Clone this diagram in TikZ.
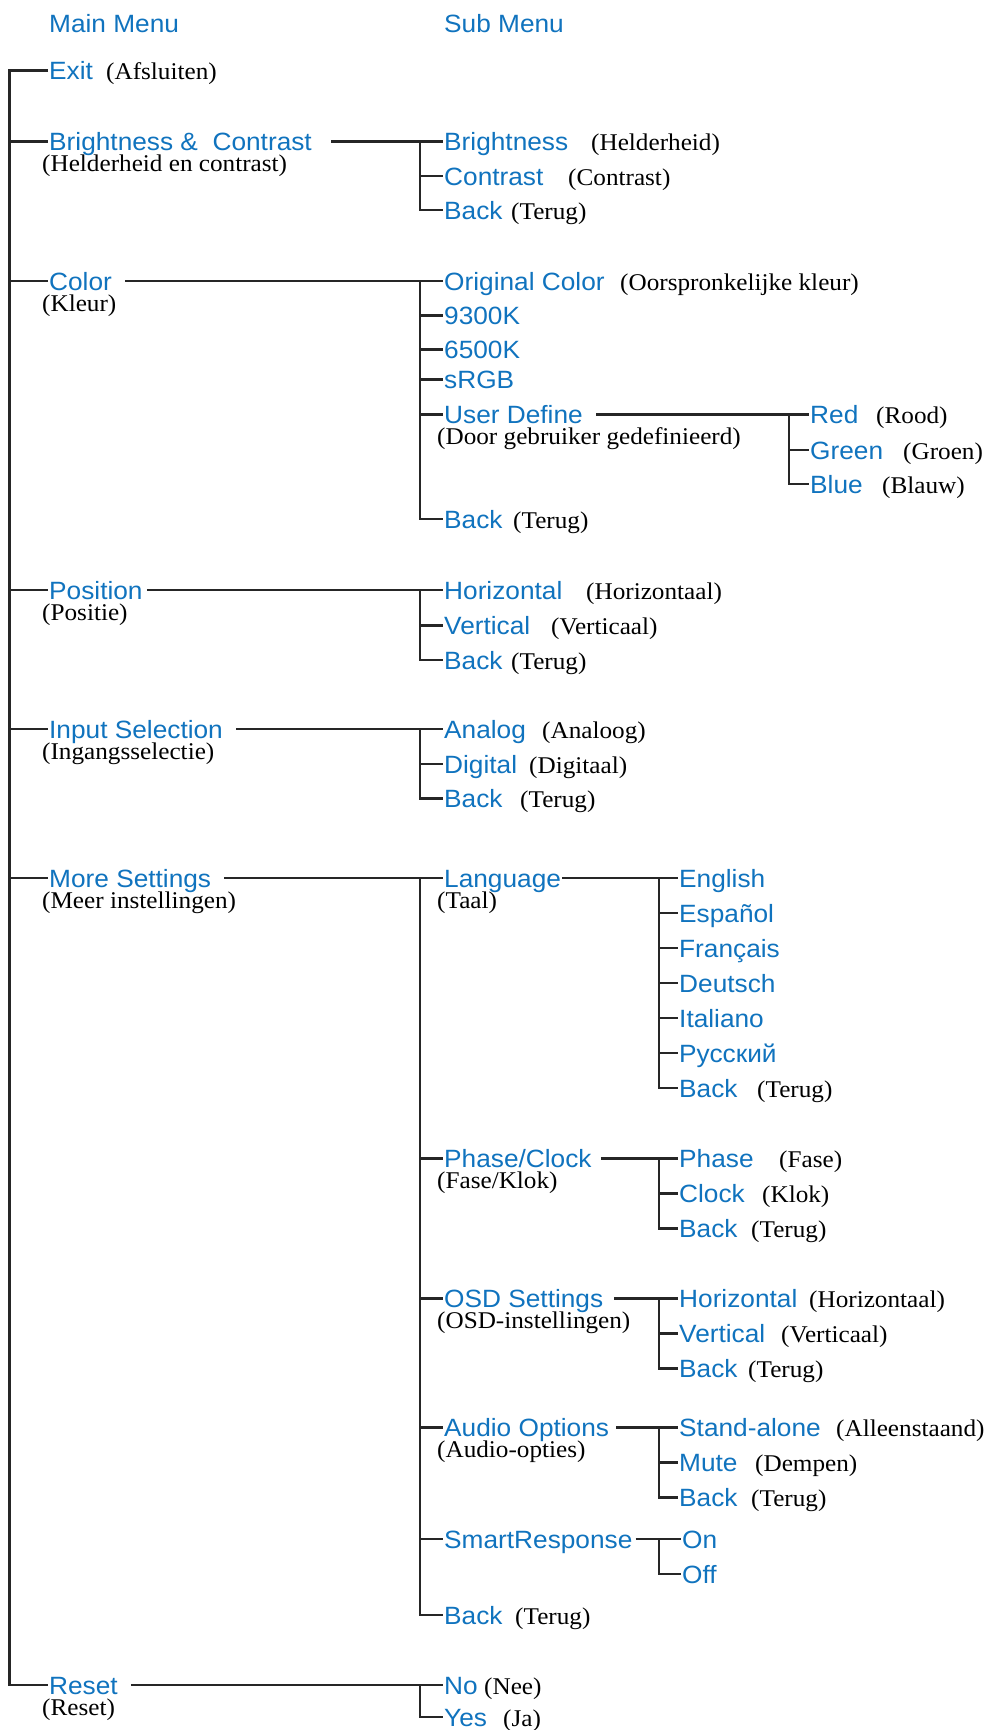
\documentclass[tikz,border=0pt]{standalone}
\usepackage{fontspec}
\newfontfamily\menufont[FakeStretch=1.05]{Liberation Sans}
\newfontfamily\nlfont[FakeStretch=1.05]{Liberation Serif}
\usetikzlibrary{positioning}
\definecolor{menublue}{RGB}{16,115,190}
\tikzset{
  item/.style={font={\menufont\fontsize{25}{30}\selectfont}, text=menublue, anchor=west,
    inner sep=1pt, text height=18pt, text depth=0pt},
  nl/.style={font={\nlfont\fontsize{24}{28}\selectfont}, anchor=west,
    inner sep=1pt, text height=18pt, text depth=0pt},
  tree/.style={line width=2.2pt, draw=black!85},
}

\begin{document}
\begin{tikzpicture}[x=1pt,y=-1pt]
\useasboundingbox (0,0) rectangle (990,1730);
\coordinate (t) at (9.5,0);
\coordinate (s) at (420,0);
\coordinate (w) at (659,0);
\coordinate (u) at (789,0);

\node[item] (mainhd) at (48,23) {Main Menu};
\node[item] (subhd) at (443,23) {Sub Menu};

% main menu
\node[item] (exit) at (48,70.5) {Exit};
\node[nl] (exitnl) at (105,70.5) {(Afsluiten)};
\node[item] (bc) at (48,141.5) {Brightness \&\ \ Contrast};
\node[nl] (bcnl) at ([xshift=-7pt,yshift=-21pt]bc.west) {(Helderheid en contrast)};
\node[item] (color) at (48,281) {Color};
\node[nl] (colornl) at ([xshift=-7pt,yshift=-21pt]color.west) {(Kleur)};
\node[item] (pos) at (48,590) {Position};
\node[nl] (posnl) at ([xshift=-7pt,yshift=-21pt]pos.west) {(Positie)};
\node[item] (input) at (48,729) {Input Selection};
\node[nl] (inputnl) at ([xshift=-7pt,yshift=-21pt]input.west) {(Ingangsselectie)};
\node[item] (more) at (48,878) {More Settings};
\node[nl] (morenl) at ([xshift=-7pt,yshift=-21pt]more.west) {(Meer instellingen)};
\node[item] (reset) at (48,1685) {Reset};
\node[nl] (resetnl) at ([xshift=-7pt,yshift=-21pt]reset.west) {(Reset)};

\draw[tree] (exit.west) -- (t |- exit.west) -- (t |- reset.west) -- (reset.west);
\foreach \n in {bc,color,pos,input,more}
  \draw[tree] (t |- \n.west) -- (\n.west);

% brightness & contrast
\node[item] (bright) at (443,141.5) {Brightness};
\node[nl] (brightnl) at (590,141.5) {(Helderheid)};
\node[item] (contr) at (443,176) {Contrast};
\node[nl] (contrnl) at (567,176) {(Contrast)};
\node[item] (bcback) at (443,210) {Back};
\node[nl] (bcbacknl) at (510,210) {(Terug)};
\draw[tree] ([xshift=18pt]bc.east) -- (s |- bc.east) -- (bright.west);
\draw[tree] (s |- bright.west) -- (s |- bcback.west) -- (bcback.west);
\draw[tree] (s |- contr.west) -- (contr.west);

% color
\node[item] (orig) at (443,281) {Original Color};
\node[nl] (orignl) at (619,281) {(Oorspronkelijke kleur)};
\node[item] (ka) at (443,315.5) {9300K};
\node[item] (kb) at (443,349.5) {6500K};
\node[item] (srgb) at (443,379.5) {sRGB};
\node[item] (user) at (443,414.5) {User Define};
\node[nl] (usernl) at ([xshift=-7pt,yshift=-21pt]user.west) {(Door gebruiker gedefinieerd)};
\node[item] (colback) at (443,519) {Back};
\node[nl] (colbacknl) at (512,519) {(Terug)};
\draw[tree] ([xshift=12pt]color.east) -- (s |- color.east) -- (orig.west);
\draw[tree] (s |- orig.west) -- (s |- colback.west) -- (colback.west);
\foreach \n in {ka,kb,srgb,user}
  \draw[tree] (s |- \n.west) -- (\n.west);

\node[item] (red) at (809,414.5) {Red};
\node[nl] (rednl) at (875,414.5) {(Rood)};
\node[item] (green) at (809,450) {Green};
\node[nl] (greennl) at (902,450) {(Groen)};
\node[item] (blue) at (809,484) {Blue};
\node[nl] (bluenl) at (881,484) {(Blauw)};
\draw[tree] ([xshift=12pt]user.east) -- (u |- user.east) -- (red.west);
\draw[tree] (u |- red.west) -- (u |- blue.west) -- (blue.west);
\draw[tree] (u |- green.west) -- (green.west);

% position
\node[item] (hor) at (443,590) {Horizontal};
\node[nl] (hornl) at (585,590) {(Horizontaal)};
\node[item] (ver) at (443,625.5) {Vertical};
\node[nl] (vernl) at (550,625.5) {(Verticaal)};
\node[item] (posback) at (443,660) {Back};
\node[nl] (posbacknl) at (510,660) {(Terug)};
\draw[tree] ([xshift=3pt]pos.east) -- (s |- pos.east) -- (hor.west);
\draw[tree] (s |- hor.west) -- (s |- posback.west) -- (posback.west);
\draw[tree] (s |- ver.west) -- (ver.west);

% input selection
\node[item] (analog) at (443,729) {Analog};
\node[nl] (analognl) at (541,729) {(Analoog)};
\node[item] (digital) at (443,764) {Digital};
\node[nl] (digitalnl) at (528,764) {(Digitaal)};
\node[item] (inback) at (443,798.5) {Back};
\node[nl] (inbacknl) at (519,798.5) {(Terug)};
\draw[tree] ([xshift=12pt]input.east) -- (s |- input.east) -- (analog.west);
\draw[tree] (s |- analog.west) -- (s |- inback.west) -- (inback.west);
\draw[tree] (s |- digital.west) -- (digital.west);

% more settings
\node[item] (lang) at (443,878) {Language};
\node[nl] (langnl) at ([xshift=-7pt,yshift=-21pt]lang.west) {(Taal)};
\node[item] (phcl) at (443,1158.5) {Phase/Clock};
\node[nl] (phclnl) at ([xshift=-7pt,yshift=-21pt]phcl.west) {(Fase/Klok)};
\node[item] (osd) at (443,1298.5) {OSD Settings};
\node[nl] (osdnl) at ([xshift=-7pt,yshift=-21pt]osd.west) {(OSD-instellingen)};
\node[item] (aud) at (443,1427.5) {Audio Options};
\node[nl] (audnl) at ([xshift=-7pt,yshift=-21pt]aud.west) {(Audio-opties)};
\node[item] (smr) at (443,1539) {SmartResponse};
\node[item] (mback) at (443,1615) {Back};
\node[nl] (mbacknl) at (514,1615) {(Terug)};
\draw[tree] ([xshift=12pt]more.east) -- (s |- more.east) -- (lang.west);
\draw[tree] (s |- lang.west) -- (s |- mback.west) -- (mback.west);
\foreach \n in {phcl,osd,aud,smr}
  \draw[tree] (s |- \n.west) -- (\n.west);

% language
\node[item] (english) at (678,878) {English};
\node[item] (espanol) at (678,913) {Español};
\node[item] (francais) at (678,948) {Français};
\node[item] (deutsch) at (678,983) {Deutsch};
\node[item] (italiano) at (678,1018) {Italiano};
\node[item] (russkij) at (678,1053) {Русский};
\node[item] (langback) at (678,1088) {Back};
\node[nl] (langbacknl) at (756,1088) {(Terug)};
\draw[tree] (lang.east) -- (w |- lang.east) -- (english.west);
\draw[tree] (w |- english.west) -- (w |- langback.west) -- (langback.west);
\foreach \n in {espanol,francais,deutsch,italiano,russkij}
  \draw[tree] (w |- \n.west) -- (\n.west);

% phase/clock
\node[item] (phase) at (678,1158.5) {Phase};
\node[nl] (phasenl) at (778,1158.5) {(Fase)};
\node[item] (clock) at (678,1193.5) {Clock};
\node[nl] (clocknl) at (761,1193.5) {(Klok)};
\node[item] (phback) at (678,1228.5) {Back};
\node[nl] (phbacknl) at (750,1228.5) {(Terug)};
\draw[tree] ([xshift=8pt]phcl.east) -- (w |- phcl.east) -- (phase.west);
\draw[tree] (w |- phase.west) -- (w |- phback.west) -- (phback.west);
\draw[tree] (w |- clock.west) -- (clock.west);

% osd settings
\node[item] (ohor) at (678,1298.5) {Horizontal};
\node[nl] (ohornl) at (808,1298.5) {(Horizontaal)};
\node[item] (over) at (678,1333.5) {Vertical};
\node[nl] (overnl) at (780,1333.5) {(Verticaal)};
\node[item] (oback) at (678,1368.5) {Back};
\node[nl] (obacknl) at (747,1368.5) {(Terug)};
\draw[tree] ([xshift=10pt]osd.east) -- (w |- osd.east) -- (ohor.west);
\draw[tree] (w |- ohor.west) -- (w |- oback.west) -- (oback.west);
\draw[tree] (w |- over.west) -- (over.west);

% audio options
\node[item] (stand) at (678,1427.5) {Stand-alone};
\node[nl] (standnl) at (835,1427.5) {(Alleenstaand)};
\node[item] (mute) at (678,1462.5) {Mute};
\node[nl] (mutenl) at (754,1462.5) {(Dempen)};
\node[item] (aback) at (678,1497.5) {Back};
\node[nl] (abacknl) at (750,1497.5) {(Terug)};
\draw[tree] ([xshift=6pt]aud.east) -- (w |- aud.east) -- (stand.west);
\draw[tree] (w |- stand.west) -- (w |- aback.west) -- (aback.west);
\draw[tree] (w |- mute.west) -- (mute.west);

% smartresponse
\node[item] (on) at (681,1539) {On};
\node[item] (off) at (681,1574) {Off};
\draw[tree] ([xshift=2pt]smr.east) -- (w |- smr.east) -- (on.west);
\draw[tree] (w |- on.west) -- (w |- off.west) -- (off.west);

% reset
\node[item] (no) at (443,1685) {No};
\node[nl] (nonl) at (483,1685) {(Nee)};
\node[item] (yes) at (443,1717) {Yes};
\node[nl] (yesnl) at (502,1717) {(Ja)};
\draw[tree] ([xshift=12pt]reset.east) -- (s |- reset.east) -- (no.west);
\draw[tree] (s |- no.west) -- (s |- yes.west) -- (yes.west);
\end{tikzpicture}
\end{document}
